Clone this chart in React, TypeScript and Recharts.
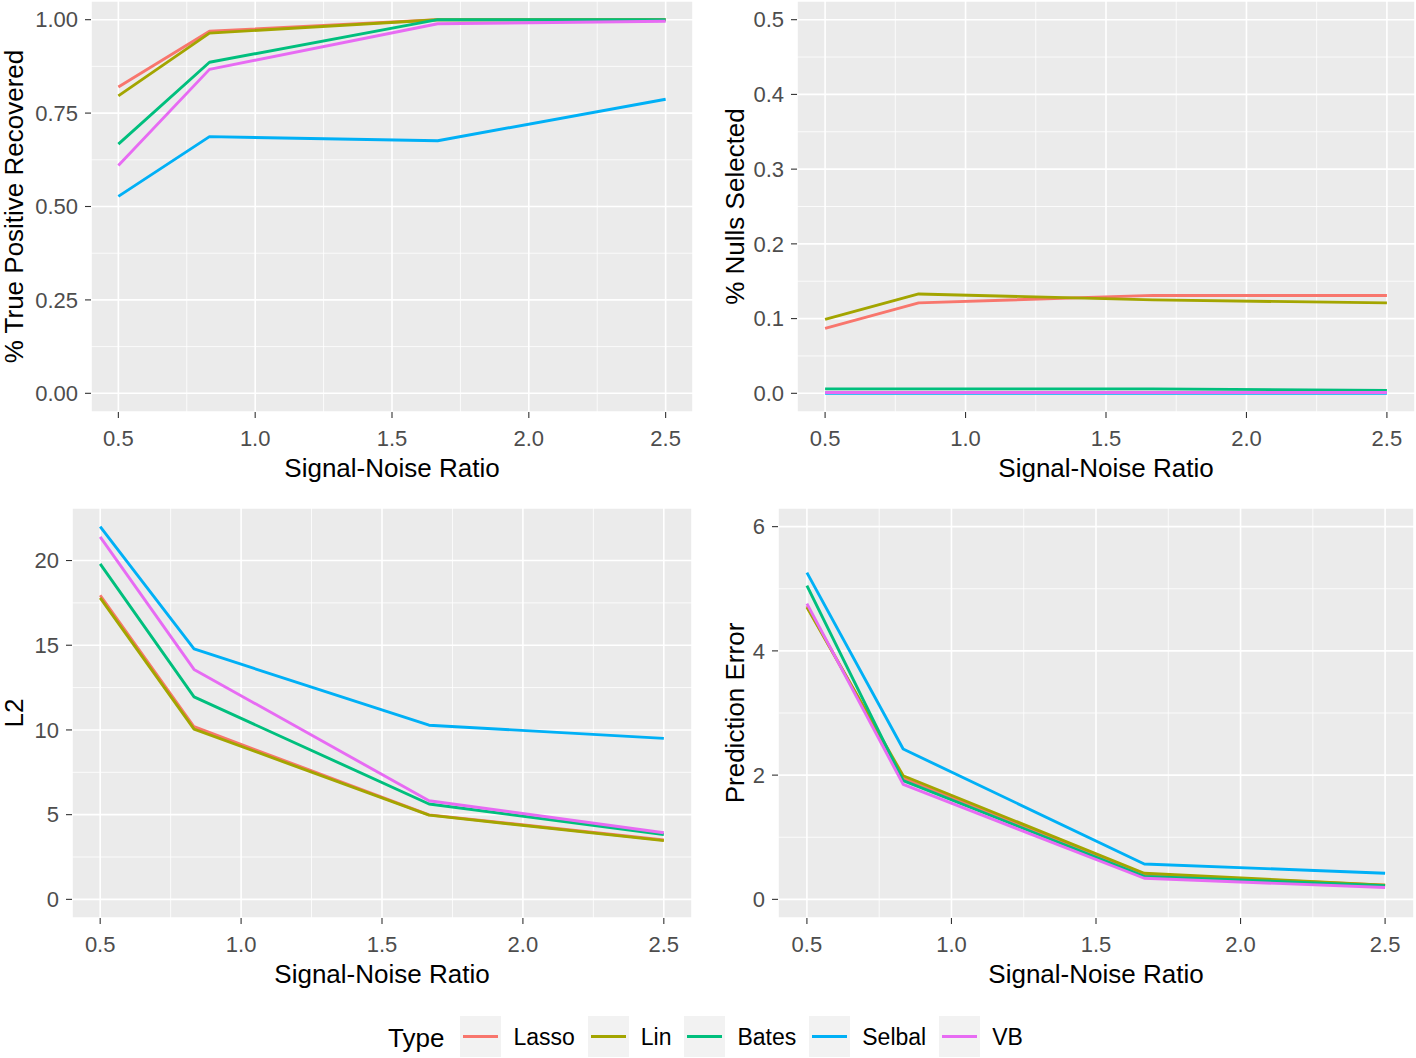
import React from "react";
import {
  LineChart,
  Line,
  XAxis,
  YAxis,
  CartesianGrid,
  ReferenceLine,
} from "recharts";

const snr = [0.5, 0.833, 1.667, 2.5];
const methods = ["Lasso", "Lin", "Bates", "Selbal", "VB"];
const colors = ["#F8766D", "#A3A500", "#00BF7D", "#00B0F6", "#E76BF3"];

const xTicks = [0.5, 1.0, 1.5, 2.0, 2.5];
const xMinor = [0.75, 1.25, 1.75, 2.25];

// % true positive recovered
const tprLasso = [0.82, 0.969, 1.0, 1.0];
const tprLin = [0.796, 0.964, 1.0, 1.0];
const tprBates = [0.667, 0.886, 1.0, 1.0];
const tprSelbal = [0.527, 0.687, 0.676, 0.787];
const tprVB = [0.61, 0.867, 0.989, 0.996];

// % nulls selected
const nullLasso = [0.087, 0.121, 0.131, 0.131];
const nullLin = [0.099, 0.133, 0.125, 0.121];
const nullBates = [0.006, 0.006, 0.006, 0.004];
const nullSelbal = [0, 0, 0, 0];
const nullVB = [0.001, 0.001, 0.001, 0.001];

// L2
const l2Lasso = [17.95, 10.19, 4.99, 3.5];
const l2Lin = [17.8, 10.05, 4.97, 3.47];
const l2Bates = [19.8, 11.95, 5.63, 3.83];
const l2Selbal = [22.0, 14.78, 10.28, 9.5];
const l2VB = [21.4, 13.57, 5.82, 3.93];

// prediction error
const peLasso = [4.72, 1.95, 0.4, 0.23];
const peLin = [4.7, 1.99, 0.42, 0.23];
const peBates = [5.05, 1.91, 0.37, 0.22];
const peSelbal = [5.26, 2.42, 0.57, 0.42];
const peVB = [4.76, 1.85, 0.34, 0.19];

const font = "'Liberation Sans', Arial, sans-serif";

interface PanelProps {
  left: number;
  top: number;
  margin: { top: number; right: number; bottom: number; left: number };
  yAxisWidth: number;
  xAxisHeight: number;
  series: number[][];
  yDomain: [number, number];
  yTicks: number[];
  yMinor: number[];
  yDigits: number;
  yTitle: string;
  yTitleOffset: number;
  xTitleOffset: number;
}

function Panel(p: PanelProps) {
  const rows = snr.map((x, i) => {
    const row: Record<string, number> = { snr: x };
    methods.forEach((m, k) => {
      row[m] = p.series[k][i];
    });
    return row;
  });

  return (
    <div style={{ position: "absolute", left: p.left, top: p.top }}>
      <LineChart width={708} height={500} data={rows} margin={p.margin}>
        <CartesianGrid stroke="#FFFFFF" strokeWidth={1.6} fill="#EBEBEB" />
        {xMinor.map((v) => (
          <ReferenceLine key={"x" + v} x={v} stroke="#FFFFFF" strokeWidth={0.8} />
        ))}
        {p.yMinor.map((v) => (
          <ReferenceLine key={"y" + v} y={v} stroke="#FFFFFF" strokeWidth={0.8} />
        ))}
        <XAxis
          type="number"
          dataKey="snr"
          domain={[0.4, 2.6]}
          ticks={xTicks}
          interval={0}
          allowDataOverflow
          tickFormatter={(v: number) => v.toFixed(1)}
          height={p.xAxisHeight}
          axisLine={false}
          tickLine={{ stroke: "#333333", strokeWidth: 1.1 }}
          tickSize={6}
          tickMargin={12}
          tick={{ fill: "#4D4D4D", fontSize: 22, fontFamily: font }}
          label={{
            value: "Signal-Noise Ratio",
            position: "insideBottom",
            offset: p.xTitleOffset,
            fill: "#000000",
            fontSize: 26,
            fontFamily: font,
          }}
        />
        <YAxis
          type="number"
          domain={p.yDomain}
          ticks={p.yTicks}
          interval={0}
          allowDataOverflow
          tickFormatter={(v: number) => v.toFixed(p.yDigits)}
          width={p.yAxisWidth}
          axisLine={false}
          tickLine={{ stroke: "#333333", strokeWidth: 1.1 }}
          tickSize={6}
          tickMargin={7}
          tick={{ fill: "#4D4D4D", fontSize: 22, fontFamily: font }}
          label={{
            value: p.yTitle,
            angle: -90,
            position: "insideLeft",
            offset: p.yTitleOffset,
            fill: "#000000",
            fontSize: 26,
            fontFamily: font,
            style: { textAnchor: "middle" },
          }}
        />
        {methods.map((m, k) => (
          <Line
            key={m}
            type="linear"
            dataKey={m}
            stroke={colors[k]}
            strokeWidth={2.9}
            strokeLinejoin="round"
            dot={false}
            activeDot={false}
            isAnimationActive={false}
          />
        ))}
      </LineChart>
    </div>
  );
}

function Legend() {
  return (
    <div
      style={{
        position: "absolute",
        left: 388,
        top: 1016,
        height: 41,
        display: "flex",
        alignItems: "center",
        fontFamily: font,
        color: "#000",
      }}
    >
      <span style={{ fontSize: 26, marginRight: 16, paddingTop: 3 }}>Type</span>
      {methods.map((m, k) => (
        <React.Fragment key={m}>
          <svg width={41} height={41} style={{ display: "block" }}>
            <rect x={0} y={0} width={41} height={41} fill="#F2F2F2" />
            <line x1={3} x2={38} y1={20.5} y2={20.5} stroke={colors[k]} strokeWidth={3} />
          </svg>
          <span style={{ fontSize: 23, marginLeft: 12, marginRight: 13, paddingTop: 2 }}>{m}</span>
        </React.Fragment>
      ))}
    </div>
  );
}

export default function App() {
  return (
    <div
      style={{
        position: "absolute",
        left: 0,
        top: 0,
        width: 1416,
        height: 1058,
        background: "#FFFFFF",
        fontFamily: font,
      }}
    >
      <Panel
        left={0}
        top={0}
        margin={{ top: 1, right: 15, bottom: 0, left: 0 }}
        yAxisWidth={91}
        xAxisHeight={88}
        series={[tprLasso, tprLin, tprBates, tprSelbal, tprVB]}
        yDomain={[-0.05, 1.05]}
        yTicks={[0, 0.25, 0.5, 0.75, 1.0]}
        yMinor={[0.125, 0.375, 0.625, 0.875]}
        yDigits={2}
        yTitle="% True Positive Recovered"
        yTitleOffset={14}
        xTitleOffset={23}
      />
      <Panel
        left={708}
        top={0}
        margin={{ top: 1, right: 1, bottom: 0, left: 0 }}
        yAxisWidth={89}
        xAxisHeight={88}
        series={[nullLasso, nullLin, nullBates, nullSelbal, nullVB]}
        yDomain={[-0.025, 0.525]}
        yTicks={[0, 0.1, 0.2, 0.3, 0.4, 0.5]}
        yMinor={[0.05, 0.15, 0.25, 0.35, 0.45]}
        yDigits={1}
        yTitle="% Nulls Selected"
        yTitleOffset={27}
        xTitleOffset={23}
      />
      <Panel
        left={0}
        top={500}
        margin={{ top: 8, right: 16, bottom: 0, left: 0 }}
        yAxisWidth={72}
        xAxisHeight={82}
        series={[l2Lasso, l2Lin, l2Bates, l2Selbal, l2VB]}
        yDomain={[-1.1, 23.1]}
        yTicks={[0, 5, 10, 15, 20]}
        yMinor={[2.5, 7.5, 12.5, 17.5]}
        yDigits={0}
        yTitle="L2"
        yTitleOffset={14}
        xTitleOffset={17}
      />
      <Panel
        left={708}
        top={500}
        margin={{ top: 8, right: 2, bottom: 0, left: 0 }}
        yAxisWidth={70}
        xAxisHeight={82}
        series={[peLasso, peLin, peBates, peSelbal, peVB]}
        yDomain={[-0.3, 6.3]}
        yTicks={[0, 2, 4, 6]}
        yMinor={[1, 3, 5]}
        yDigits={0}
        yTitle="Prediction Error"
        yTitleOffset={27}
        xTitleOffset={17}
      />
      <Legend />
    </div>
  );
}
